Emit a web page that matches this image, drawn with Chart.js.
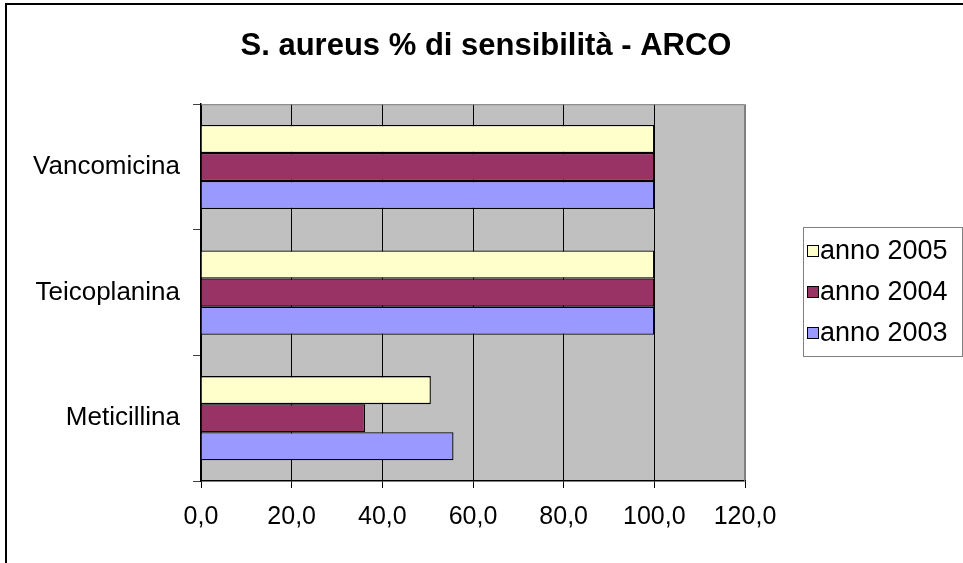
<!DOCTYPE html>
<html>
<head>
<meta charset="utf-8">
<script src="https://cdn.jsdelivr.net/npm/chart.js@4"></script>
<style>
  html, body { margin: 0; padding: 0; background: #fff; }
  #wrap { width: 963px; height: 563px; }
</style>
</head>
<body>
<div id="wrap"><canvas id="chart"></canvas></div>
<script>
const categories = ['Vancomicina', 'Teicoplanina', 'Meticillina'];
const seriesNames = ['anno 2005', 'anno 2004', 'anno 2003'];
const values2005 = [100, 100, 50.7];
const values2004 = [100, 100, 36.2];
const values2003 = [100, 100, 55.7];
const seriesColors = ['#FFFFCC', '#993366', '#9999FF'];
const xMin = 0, xMax = 120, xStep = 20;

const FONT = "'Liberation Sans', Arial, sans-serif";

// grey plot background plus the thin grey frame on top/right
const plotArea = {
    id: 'plotArea',
    afterLayout(chart) {
        // centre the title over the whole picture, not just the plot
        if (chart.titleBlock) {
            chart.titleBlock.left = 9;
            chart.titleBlock.right = 963;
        }
    },
    beforeDraw(chart) {
        const { ctx, chartArea: a } = chart;
        ctx.save();
        ctx.fillStyle = '#C0C0C0';
        ctx.fillRect(a.left, a.top, a.right - a.left, a.bottom - a.top);
        ctx.restore();
    },
    afterDraw(chart) {
        const { ctx, chartArea: a } = chart;
        ctx.save();
        ctx.strokeStyle = '#808080';
        ctx.lineWidth = 1;
        ctx.beginPath();
        ctx.moveTo(a.left, a.top + 0.5);
        ctx.lineTo(a.right - 0.5, a.top + 0.5);
        ctx.lineTo(a.right - 0.5, a.bottom);
        ctx.stroke();
        // outer chart frame (only left and top are visible in the picture)
        ctx.strokeStyle = '#000';
        ctx.lineWidth = 2;
        ctx.beginPath();
        ctx.moveTo(6, 563);
        ctx.lineTo(6, 4);
        ctx.lineTo(963, 4);
        ctx.stroke();
        ctx.restore();
    }
};

// boxed legend on the right, built from the datasets
const boxLegend = {
    id: 'boxLegend',
    afterDraw(chart) {
        const { ctx } = chart;
        const bx = 803, by = 227, bw = 159, bh = 129;
        ctx.save();
        ctx.strokeStyle = '#808080';
        ctx.lineWidth = 1;
        ctx.strokeRect(bx + 0.5, by + 0.5, bw, bh);
        ctx.font = '27px ' + FONT;
        ctx.textBaseline = 'middle';
        chart.data.datasets.forEach((ds, i) => {
            const cy = 251 + i * 41;
            ctx.fillStyle = ds.backgroundColor;
            ctx.fillRect(807.5, cy - 5.5, 11, 11);
            ctx.strokeStyle = '#000';
            ctx.strokeRect(807.5, cy - 5.5, 11, 11);
            ctx.fillStyle = '#000';
            ctx.fillText(ds.label, 820, cy + 1);
        });
        ctx.restore();
    }
};

const ctx = document.getElementById('chart').getContext('2d');
new Chart(ctx, {
    type: 'bar',
    data: {
        labels: categories,
        datasets: [
            { label: seriesNames[0], data: values2005, backgroundColor: seriesColors[0] },
            { label: seriesNames[1], data: values2004, backgroundColor: seriesColors[1] },
            { label: seriesNames[2], data: values2003, backgroundColor: seriesColors[2] },
        ]
    },
    options: {
        indexAxis: 'y',
        responsive: true,
        maintainAspectRatio: false,
        animation: false,
        layout: { padding: { left: 0, right: 218, top: 0, bottom: 0 } },
        datasets: {
            bar: {
                borderColor: '#000',
                borderWidth: 1.3,
                categoryPercentage: 0.67,
                barPercentage: 1.0,
            }
        },
        plugins: {
            legend: { display: false },
            tooltip: { enabled: false },
            title: {
                display: true,
                text: 'S. aureus % di sensibilità - ARCO',
                color: '#000',
                font: { family: FONT, size: 31, weight: 'bold' },
                padding: { top: 28, bottom: 39 },
            },
        },
        scales: {
            x: {
                min: xMin,
                max: xMax,
                afterFit(scale) { scale.height = 82; },
                ticks: {
                    stepSize: xStep,
                    color: '#000',
                    padding: 14,
                    font: { family: FONT, size: 25 },
                    callback: (v) => v.toFixed(1).replace('.', ','),
                },
                grid: {
                    color: (c) => (c.tick && c.tick.value === xMax) ? '#808080' : '#000',
                    tickColor: '#000',
                    tickLength: 7,
                    lineWidth: 1,
                },
                border: { color: '#000', width: 1.5 },
            },
            y: {
                afterFit(scale) { scale.width = 201; },
                ticks: {
                    color: '#000',
                    padding: 13,
                    font: { family: FONT, size: 26 },
                },
                grid: {
                    offset: true,
                    drawOnChartArea: false,
                    tickColor: '#404040',
                    tickLength: 8,
                },
                border: { color: '#000', width: 1.5 },
            }
        }
    },
    plugins: [plotArea, boxLegend]
});
</script>
</body>
</html>
